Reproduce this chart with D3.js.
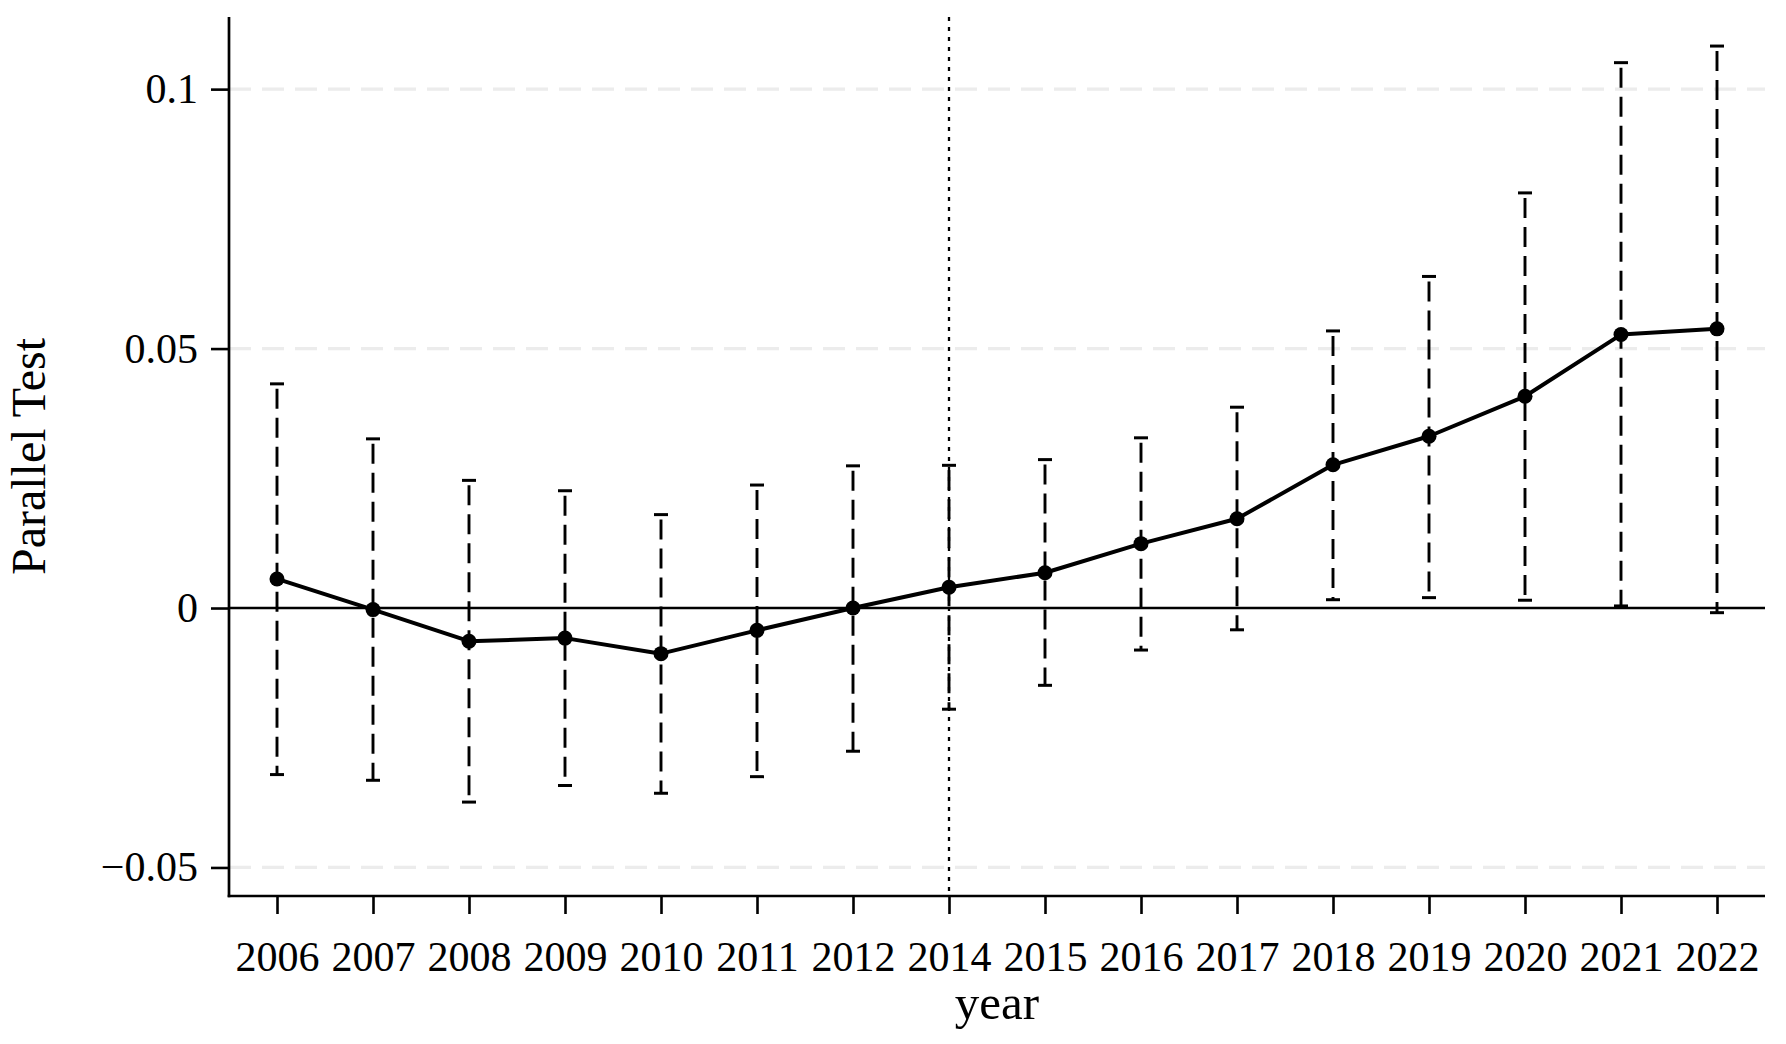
<!DOCTYPE html>
<html>
<head>
<meta charset="utf-8">
<script src="https://cdn.jsdelivr.net/npm/d3@7"></script>
<style>
  html, body { margin: 0; padding: 0; background: #fff; }
  svg { display: block; }
  text { font-family: "Liberation Serif", "DejaVu Serif", serif; fill: #000; }
</style>
</head>
<body>
<script>
const years = ['2006','2007','2008','2009','2010','2011','2012','2014','2015','2016','2017','2018','2019','2020','2021','2022'];
const coef  = [0.0056, -0.0003, -0.0064, -0.0058, -0.0088, -0.0043, 0.0000, 0.0040, 0.0068, 0.0124, 0.0172, 0.0276, 0.0331, 0.0408, 0.0527, 0.0538];
const upper = [0.0432, 0.0326, 0.0246, 0.0226, 0.0180, 0.0237, 0.0274, 0.0275, 0.0286, 0.0328, 0.0387, 0.0534, 0.0639, 0.0800, 0.1051, 0.1083];
const lower = [-0.0321, -0.0332, -0.0374, -0.0342, -0.0357, -0.0325, -0.0276, -0.0195, -0.0149, -0.0081, -0.0042, 0.0016, 0.0020, 0.0015, 0.0004, -0.0009];
const yTicks = [-0.05, 0, 0.05, 0.1];
const yTickLabels = ['\u22120.05', '0', '0.05', '0.1'];
const eventYear = '2014';
const xTitle = 'year';
const yTitle = 'Parallel Test';

const W = 1786, H = 1044;
const L = 229, R = 1765, T = 17, B = 896;

const svg = d3.select('body').append('svg').attr('width', W).attr('height', H);

const x = d3.scalePoint().domain(years).range([L, R]).padding(0.5);
const y = d3.scaleLinear().domain([-0.0555, 0.1139]).range([B, T]);

const data = years.map((yr, i) => ({ yr, c: coef[i], hi: upper[i], lo: lower[i] }));

// gridlines (light dashed)
svg.append('g').selectAll('line').data(yTicks.filter(v => v !== 0)).join('line')
  .attr('x1', L).attr('x2', R)
  .attr('y1', d => y(d)).attr('y2', d => y(d))
  .attr('stroke', '#ececec').attr('stroke-width', 3.2)
  .attr('stroke-dasharray', '22,11');

// zero reference line
svg.append('line')
  .attr('x1', L).attr('x2', R).attr('y1', y(0)).attr('y2', y(0))
  .attr('stroke', '#000').attr('stroke-width', 2.6);

// vertical dotted line at event year
svg.append('line')
  .attr('x1', x(eventYear)).attr('x2', x(eventYear))
  .attr('y1', T).attr('y2', B)
  .attr('stroke', '#000').attr('stroke-width', 2.3)
  .attr('stroke-dasharray', '4,6');

// error bars
const eb = svg.append('g');
eb.selectAll('line.bar').data(data).join('line').attr('class', 'bar')
  .attr('x1', d => x(d.yr)).attr('x2', d => x(d.yr))
  .attr('y1', d => y(d.hi)).attr('y2', d => y(d.lo))
  .attr('stroke', '#000').attr('stroke-width', 2.9)
  .attr('stroke-dasharray', '20,9').attr('stroke-dashoffset', 24);
const capW = 7;
eb.selectAll('line.capHi').data(data).join('line').attr('class', 'capHi')
  .attr('x1', d => x(d.yr) - capW).attr('x2', d => x(d.yr) + capW)
  .attr('y1', d => y(d.hi)).attr('y2', d => y(d.hi))
  .attr('stroke', '#000').attr('stroke-width', 3);
eb.selectAll('line.capLo').data(data).join('line').attr('class', 'capLo')
  .attr('x1', d => x(d.yr) - capW).attr('x2', d => x(d.yr) + capW)
  .attr('y1', d => y(d.lo)).attr('y2', d => y(d.lo))
  .attr('stroke', '#000').attr('stroke-width', 3);

// connecting line
svg.append('path').datum(data)
  .attr('fill', 'none').attr('stroke', '#000').attr('stroke-width', 4)
  .attr('stroke-linejoin', 'round')
  .attr('d', d3.line().x(d => x(d.yr)).y(d => y(d.c)));

// points
svg.append('g').selectAll('circle').data(data).join('circle')
  .attr('cx', d => x(d.yr)).attr('cy', d => y(d.c)).attr('r', 7.5)
  .attr('fill', '#000');

// axes
const yAxis = d3.axisLeft(y).tickValues(yTicks)
  .tickFormat((d, i) => yTickLabels[i]).tickSize(18).tickPadding(13).tickSizeOuter(0);
const gy = svg.append('g').attr('transform', `translate(${L},0)`).call(yAxis);
gy.select('.domain').remove();
gy.selectAll('.tick line').attr('stroke', '#000').attr('stroke-width', 2.6);
gy.selectAll('.tick text').attr('font-size', 42).attr('font-family', '"Liberation Serif", serif');
svg.append('line').attr('x1', L).attr('x2', L).attr('y1', T).attr('y2', B + 1.3)
  .attr('stroke', '#000').attr('stroke-width', 2.7);

const xAxis = d3.axisBottom(x).tickSize(18).tickPadding(27).tickSizeOuter(0);
const gx = svg.append('g').attr('transform', `translate(0,${B})`).call(xAxis);
gx.select('.domain').remove();
gx.selectAll('.tick line').attr('stroke', '#000').attr('stroke-width', 2.6);
gx.selectAll('.tick text').attr('font-size', 42).attr('font-family', '"Liberation Serif", serif');
svg.append('line').attr('x1', L - 1.3).attr('x2', R).attr('y1', B).attr('y2', B)
  .attr('stroke', '#000').attr('stroke-width', 2.7);

// titles
svg.append('text').attr('x', (L + R) / 2).attr('y', 1019)
  .attr('text-anchor', 'middle').attr('font-size', 49).text(xTitle);
svg.append('text').attr('transform', `translate(45,${(T + B) / 2}) rotate(-90)`)
  .attr('text-anchor', 'middle').attr('font-size', 48).text(yTitle);
</script>
</body>
</html>
